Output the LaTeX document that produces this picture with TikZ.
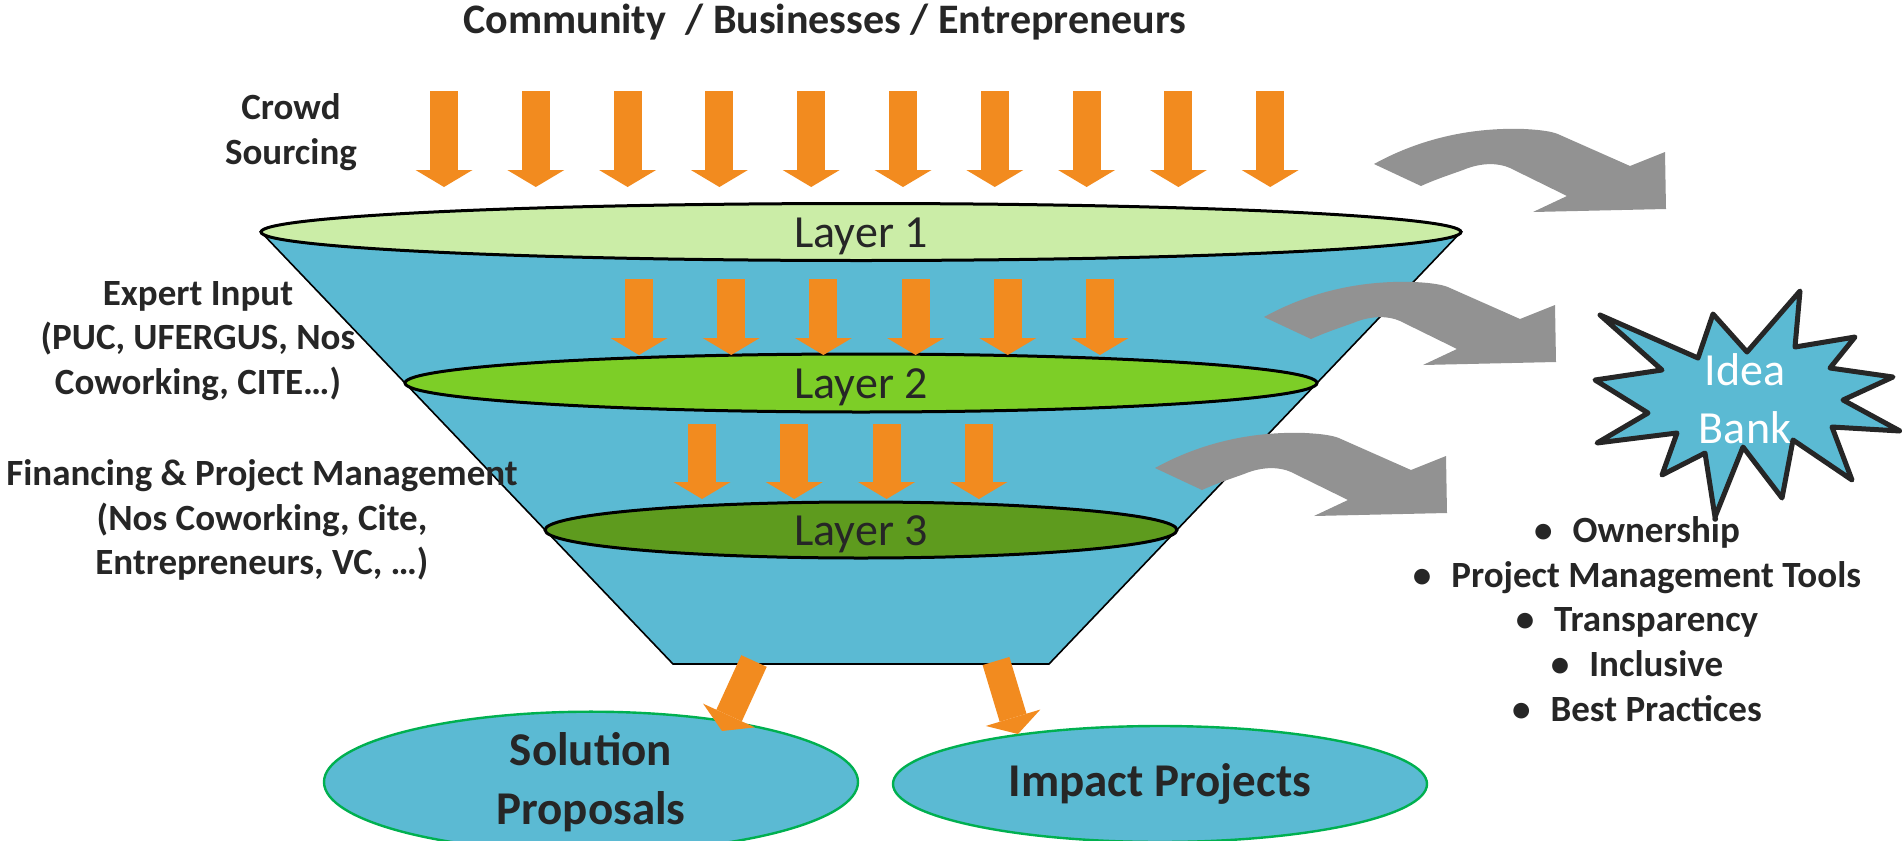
\documentclass[tikz,border=0pt]{standalone}
\usepackage{fontspec}
\setmainfont{Carlito}
\usepackage{xcolor}
\usetikzlibrary{shapes.geometric, arrows.meta, positioning, calc}

\definecolor{funnelblue}{HTML}{5BBAD3}
\definecolor{layerone}{HTML}{CBEDA7}
\definecolor{layertwo}{HTML}{7DCE27}
\definecolor{layerthree}{HTML}{5E9B1E}
\definecolor{arroworange}{HTML}{F28B1F}
\definecolor{arrowgray}{HTML}{929292}
\definecolor{resultgreen}{HTML}{00B050}
\definecolor{textdark}{HTML}{262626}

\begin{document}
\begin{tikzpicture}[x=0.5pt, y=-0.5pt,
    layer/.style={ellipse, draw=black, line width=1.5pt, inner sep=0pt, outer sep=0pt,
        text=textdark, text height=15.5pt, text depth=0pt, font=\fontsize{23}{28}\selectfont},
    inflow/.style={draw=arroworange, line width=14pt,
        -{Triangle[width=28.5pt, length=8.5pt, line width=0pt]}},
    outflow/.style={fill=arrowgray},
    result/.style={ellipse, draw=resultgreen, line width=1.2pt, fill=funnelblue,
        minimum width=267pt, minimum height=58pt, inner sep=0pt, outer sep=0pt,
        align=center, text=textdark, font=\bfseries\fontsize{23.5}{29.5}\selectfont},
    sidetext/.style={align=center, text=textdark, font=\bfseries\fontsize{18.5}{22.3}\selectfont}]
    \useasboundingbox (0,0) rectangle (1902,841);

    % Funnel
    \coordinate (ftl) at (261,232);
    \coordinate (ftr) at (1461,232);
    \coordinate (fbr) at (1049,664);
    \coordinate (fbl) at (673,664);
    \draw[fill=funnelblue, line width=0.8pt] (ftl) -- (ftr) -- (fbr) -- (fbl) -- cycle;

    % Layers
    \node[layer, fill=layerone, minimum width=600pt, minimum height=28.5pt] (layer1) at (861,232) {Layer 1};
    \node[layer, fill=layertwo, minimum width=456pt, minimum height=29pt] (layer2) at (861,383) {Layer 2};
    \node[layer, fill=layerthree, minimum width=316pt, minimum height=28pt] (layer3) at (861,530) {Layer 3};

    % Inputs
    \foreach \i in {0,...,9}
        \draw[inflow] (444+91.8*\i,91) -- (444+91.8*\i,187);
    \foreach \i in {0,...,5}
        \draw[inflow] (639+92.2*\i,279) -- (639+92.2*\i,355);
    \foreach \i in {0,...,3}
        \draw[inflow] (702+92.3*\i,424) -- (702+92.3*\i,499);

    % Outputs to the idea bank
    \foreach \sx/\sy in {1374/164, 1264/317, 1155/468}
        \fill[outflow, shift={(\sx,\sy)}]
            (0,0) .. controls (40,-22) and (90,-37) .. (150,-35)
            .. controls (170,-34) and (180,-32) .. (186,-29) -- (256,2)
            -- (291,-12) -- (292,45) -- (159,48) -- (193,32) -- (136,4)
            .. controls (125,-1) and (108,-2) .. (89,6)
            .. controls (75,11) and (60,16) .. (47,22) -- cycle;

    % Idea bank
    \draw[fill=funnelblue, line width=2.5pt, draw=textdark, line join=round]
        (1600,315) -- (1698,358) -- (1713,314) -- (1747,352) -- (1800,291) -- (1795,347)
        -- (1855,337) -- (1830,368) -- (1893,377) -- (1843,400) -- (1900,431) -- (1832,427)
        -- (1852,480) -- (1793,440) -- (1782,498) -- (1743,447) -- (1715,517) -- (1705,453)
        -- (1662,475) -- (1677,433) -- (1597,443) -- (1648,413) -- (1595,380) -- (1662,370) -- cycle;
    \node[align=center, text=white, font=\fontsize{23}{29}\selectfont] (idea) at (1745,399) {Idea\\Bank};

    % Results
    \node[result] (solution) at (591,782) {Solution\\Proposals};
    \node[result] (impact) at (1160,784) {Impact Projects};
    \coordinate (sstart) at (754,661);
    \coordinate (istart) at (996,661);
    \draw[inflow] (sstart) -- ($(solution.center)+(131,-51)$);
    \draw[inflow] (istart) -- ($(impact.center)+(-142,-50)$);

    % Texts
    \node[text=textdark, font=\bfseries\fontsize{21}{25}\selectfont] (title) at (825,22)
        {Community~~/ Businesses / Entrepreneurs};
    \node[sidetext] (crowd) at (291,132) {Crowd\\Sourcing};
    \node[sidetext] (expert) at (198,341) {Expert Input\\(PUC, UFERGUS, Nos\\Coworking, CITE…)};
    \node[sidetext] (finance) at (262,520) {Financing \& Project Management\\(Nos Coworking, Cite,\\Entrepreneurs, VC, …)};
    \node[sidetext] (benefits) at (1637,619) {\textbullet\hspace{10pt}Ownership\\
        \textbullet\hspace{10pt}Project Management Tools\\
        \textbullet\hspace{10pt}Transparency\\
        \textbullet\hspace{10pt}Inclusive\\
        \textbullet\hspace{10pt}Best Practices};
\end{tikzpicture}
\end{document}
